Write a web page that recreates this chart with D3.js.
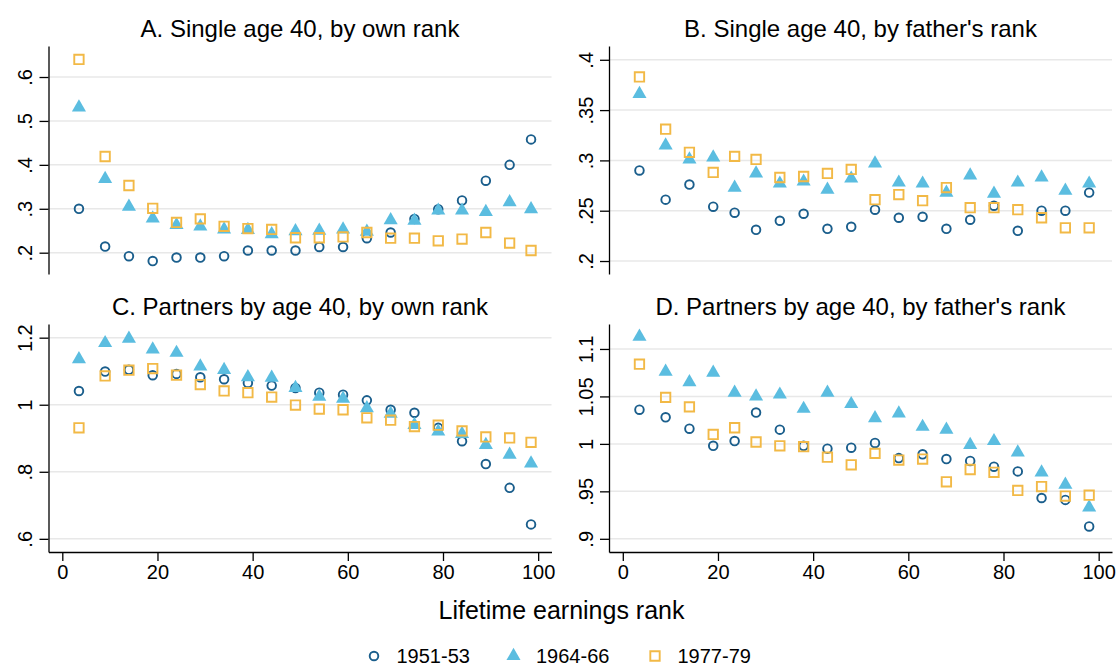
<!DOCTYPE html>
<html>
<head>
  <meta charset="utf-8">
  <title>Single and partnered by earnings rank</title>
  <script src="https://cdn.jsdelivr.net/npm/d3@7"></script>
  <style>
    body { margin: 0; background: #fff; }
    svg text { font-family: "Liberation Sans", Arial, sans-serif; fill: #000; }
  </style>
</head>
<body>
<svg id="chart" width="1119" height="666"></svg>
<script>
  // 1. Data
  var cohorts = ["1951-53", "1964-66", "1977-79"];
  var ranksOwn = [3.5, 9, 14, 19, 24, 29, 34, 39, 44, 49, 54, 59, 64, 69, 74, 79, 84, 89, 94, 98.5];
  var ranksFather = [3.5, 9, 14, 19, 23.5, 28, 33, 38, 43, 48, 53, 58, 63, 68, 73, 78, 83, 88, 93, 98];

  var singleOwn51 = [0.300, 0.214, 0.192, 0.181, 0.189, 0.189, 0.192, 0.205, 0.205, 0.205, 0.213, 0.213, 0.233, 0.246, 0.277, 0.299, 0.319, 0.364, 0.400, 0.458];
  var singleOwn64 = [0.531, 0.368, 0.305, 0.278, 0.263, 0.260, 0.253, 0.252, 0.242, 0.249, 0.250, 0.253, 0.248, 0.274, 0.273, 0.296, 0.296, 0.293, 0.315, 0.299];
  var singleOwn77 = [0.640, 0.419, 0.353, 0.301, 0.269, 0.277, 0.260, 0.255, 0.253, 0.234, 0.234, 0.236, 0.246, 0.233, 0.233, 0.227, 0.231, 0.246, 0.222, 0.205];

  var singleFather51 = [0.290, 0.261, 0.276, 0.254, 0.248, 0.231, 0.240, 0.247, 0.232, 0.234, 0.251, 0.243, 0.244, 0.232, 0.241, 0.255, 0.230, 0.250, 0.250, 0.268];
  var singleFather64 = [0.366, 0.315, 0.301, 0.303, 0.273, 0.287, 0.277, 0.279, 0.271, 0.282, 0.297, 0.278, 0.277, 0.268, 0.285, 0.267, 0.278, 0.283, 0.270, 0.277];
  var singleFather77 = [0.383, 0.331, 0.308, 0.288, 0.304, 0.301, 0.283, 0.284, 0.287, 0.291, 0.261, 0.266, 0.260, 0.273, 0.253, 0.253, 0.251, 0.243, 0.233, 0.233];

  var partnersOwn51 = [1.041, 1.099, 1.104, 1.088, 1.092, 1.082, 1.076, 1.065, 1.057, 1.050, 1.036, 1.030, 1.013, 0.985, 0.976, 0.931, 0.891, 0.823, 0.752, 0.643];
  var partnersOwn64 = [1.136, 1.184, 1.197, 1.165, 1.155, 1.114, 1.104, 1.082, 1.081, 1.050, 1.024, 1.018, 0.990, 0.973, 0.940, 0.920, 0.913, 0.880, 0.851, 0.825];
  var partnersOwn77 = [0.931, 1.086, 1.103, 1.108, 1.088, 1.060, 1.041, 1.036, 1.023, 0.999, 0.987, 0.985, 0.961, 0.954, 0.935, 0.939, 0.922, 0.904, 0.901, 0.888];

  var partnersFather51 = [1.036, 1.028, 1.016, 0.998, 1.003, 1.033, 1.015, 0.998, 0.995, 0.996, 1.001, 0.985, 0.989, 0.984, 0.982, 0.976, 0.971, 0.943, 0.941, 0.913];
  var partnersFather64 = [1.113, 1.076, 1.065, 1.075, 1.054, 1.050, 1.052, 1.037, 1.054, 1.042, 1.027, 1.032, 1.018, 1.015, 0.999, 1.003, 0.991, 0.970, 0.957, 0.933];
  var partnersFather77 = [1.084, 1.049, 1.039, 1.010, 1.017, 1.002, 0.998, 0.997, 0.986, 0.978, 0.990, 0.983, 0.984, 0.960, 0.973, 0.970, 0.951, 0.955, 0.945, 0.946];

  var xTicks = [0, 20, 40, 60, 80, 100];
  var yTicksA = [0.2, 0.3, 0.4, 0.5, 0.6], yLabelsA = [".2", ".3", ".4", ".5", ".6"];
  var yTicksB = [0.2, 0.25, 0.3, 0.35, 0.4], yLabelsB = [".2", ".25", ".3", ".35", ".4"];
  var yTicksC = [0.6, 0.8, 1, 1.2], yLabelsC = [".6", ".8", "1", "1.2"];
  var yTicksD = [0.9, 0.95, 1, 1.05, 1.1], yLabelsD = [".9", ".95", "1", "1.05", "1.1"];

  // 2. Layout and style
  var colors = ["#1a5e8c", "#5bbde0", "#f2b946"];
  var panelW = 503, panelH = 228;

  var panels = [
    { title: "A. Single age 40, by own rank", x: ranksOwn, series: [singleOwn51, singleOwn64, singleOwn77],
      domain: [0.1515, 0.6706], ticks: yTicksA, labels: yLabelsA, left: 48.5, top: 46, xAxis: false },
    { title: "B. Single age 40, by father's rank", x: ranksFather, series: [singleFather51, singleFather64, singleFather77],
      domain: [0.1871, 0.4137], ticks: yTicksB, labels: yLabelsB, left: 609, top: 46, xAxis: false },
    { title: "C. Partners by age 40, by own rank", x: ranksOwn, series: [partnersOwn51, partnersOwn64, partnersOwn77],
      domain: [0.5607, 1.2408], ticks: yTicksC, labels: yLabelsC, left: 48.5, top: 324, xAxis: true },
    { title: "D. Partners by age 40, by father's rank", x: ranksFather, series: [partnersFather51, partnersFather64, partnersFather77],
      domain: [0.8861, 1.1263], ticks: yTicksD, labels: yLabelsD, left: 609, top: 324, xAxis: true }
  ];

  var svg = d3.select("#chart");

  var triangle = d3.symbol().type(d3.symbolTriangle).size(86);
  var square = d3.symbol().type(d3.symbolSquare).size(88);

  function drawMarker(sel, k) {
    if (k === 0) {
      sel.append("circle").attr("r", 4.3)
        .attr("fill", "none").attr("stroke", colors[0]).attr("stroke-width", 1.9);
    } else if (k === 1) {
      sel.append("path").attr("d", triangle).attr("fill", colors[1]);
    } else {
      sel.append("path").attr("d", square)
        .attr("fill", "none").attr("stroke", colors[2]).attr("stroke-width", 1.9);
    }
  }

  // 3. Panels
  panels.forEach(function(p) {
    var x = d3.scaleLinear().domain([-2.9, 102.8]).range([0, panelW]);
    var y = d3.scaleLinear().domain(p.domain).range([panelH, 0]);

    var g = svg.append("g").attr("transform", "translate(" + p.left + "," + p.top + ")");

    g.append("text")
      .attr("x", panelW / 2).attr("y", -9)
      .attr("text-anchor", "middle")
      .style("font-size", "24px")
      .text(p.title);

    g.selectAll(".grid").data(p.ticks).enter().append("line")
      .attr("x1", 0).attr("x2", panelW)
      .attr("y1", function(d) { return y(d); }).attr("y2", function(d) { return y(d); })
      .attr("stroke", "#e8e8e8").attr("stroke-width", 1.5);

    var yAxis = g.append("g")
      .call(d3.axisLeft(y).tickValues(p.ticks).tickSize(9).tickSizeOuter(0)
        .tickFormat(function(d, i) { return p.labels[i]; }));
    yAxis.select(".domain").attr("stroke", "#000").attr("stroke-width", 1.3);
    yAxis.selectAll(".tick line").attr("stroke", "#000").attr("stroke-width", 1.3);
    yAxis.selectAll(".tick text")
      .attr("x", null).attr("dy", null)
      .attr("transform", "translate(-16.5,0) rotate(-90)")
      .attr("text-anchor", "middle")
      .style("font-size", "20px").style("font-family", "'Liberation Sans', Arial, sans-serif");

    if (p.xAxis) {
      var xAxis = g.append("g").attr("transform", "translate(0," + panelH + ")")
        .call(d3.axisBottom(x).tickValues(xTicks).tickSize(9).tickSizeOuter(0).tickPadding(4));
      xAxis.select(".domain").attr("stroke", "#000").attr("stroke-width", 1.3);
      xAxis.selectAll(".tick line").attr("stroke", "#000").attr("stroke-width", 1.3);
      xAxis.selectAll(".tick text")
        .style("font-size", "20px").style("font-family", "'Liberation Sans', Arial, sans-serif");
    }

    p.series.forEach(function(vals, k) {
      g.append("g").selectAll("g").data(vals).enter().append("g")
        .attr("transform", function(d, i) { return "translate(" + x(p.x[i]) + "," + y(d) + ")"; })
        .each(function() { drawMarker(d3.select(this), k); });
    });
  });

  // 4. Shared axis title and legend
  svg.append("text")
    .attr("x", 561.5).attr("y", 619)
    .attr("text-anchor", "middle")
    .style("font-size", "25px")
    .text("Lifetime earnings rank");

  var legendX = [374, 513.5, 655];
  var legend = svg.append("g").selectAll("g").data(cohorts).enter().append("g")
    .attr("transform", function(d, i) { return "translate(" + legendX[i] + ",656)"; });
  legend.each(function(d, i) { drawMarker(d3.select(this), i); });
  legend.append("text")
    .attr("x", 22.5).attr("y", 6.5)
    .style("font-size", "20px")
    .text(function(d) { return d; });
</script>
</body>
</html>
